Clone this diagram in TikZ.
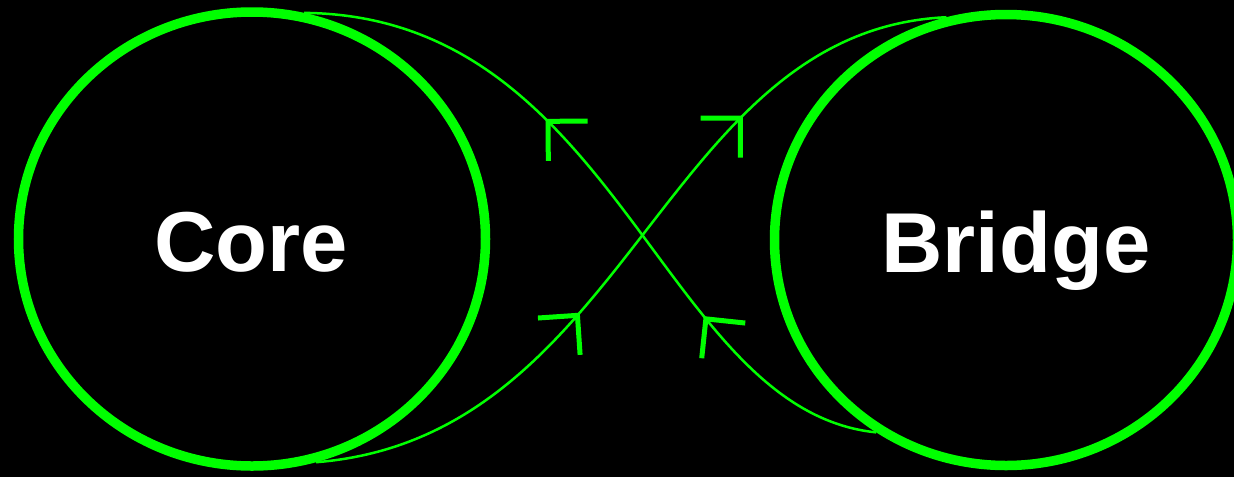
\documentclass[tikz,border=0pt]{standalone}
\usepackage{fontspec}
\setmainfont{Liberation Sans}
\usepackage{xcolor}
\usetikzlibrary{arrows.meta, decorations.markings, shapes.geometric}
\definecolor{RingGreen}{RGB}{0, 255, 0}

\tikzset{
  ring/.style={draw=RingGreen, ellipse, line width=9.5pt, minimum width=467pt, minimum height=454pt, inner sep=0pt},
  ringtext/.style={text=white, font=\fontsize{85}{100}\selectfont\bfseries, text depth=0pt, inner sep=0pt},
  barb/.tip={Straight Barb[length=28pt, width=56pt, line width=5pt]},
  link/.style={draw=RingGreen, line width=2.5pt, postaction={decorate}},
  twomarks/.style 2 args={decoration={markings,
      mark=at position #1 with {\arrow{barb}},
      mark=at position #2 with {\arrow{barb}}}}
}

\begin{document}
\begin{tikzpicture}[x=1pt, y=-1pt]
  \fill[black] (0,0) rectangle (1234,477);
  \useasboundingbox (0,0) rectangle (1234,477);

  % the two rings
  \node[ring] (core) at (252,239) {};
  \node[ring, minimum width=463pt, minimum height=451pt] (bridge) at (1006,240) {};
  \node[ringtext] (corelbl) at (251,242) {Core};
  \node[ringtext] (bridgelbl) at (1016,242) {Bridge};

  % crossing links
  \draw[link, twomarks={0.29}{0.633}] (bridge.-124) .. controls +(-215,-22) and +(315,3) .. (core.77);
  \draw[link, twomarks={0.39}{0.71}] (core.-74) .. controls +(315,-25) and +(-285,13) .. (bridge.105);
\end{tikzpicture}
\end{document}
